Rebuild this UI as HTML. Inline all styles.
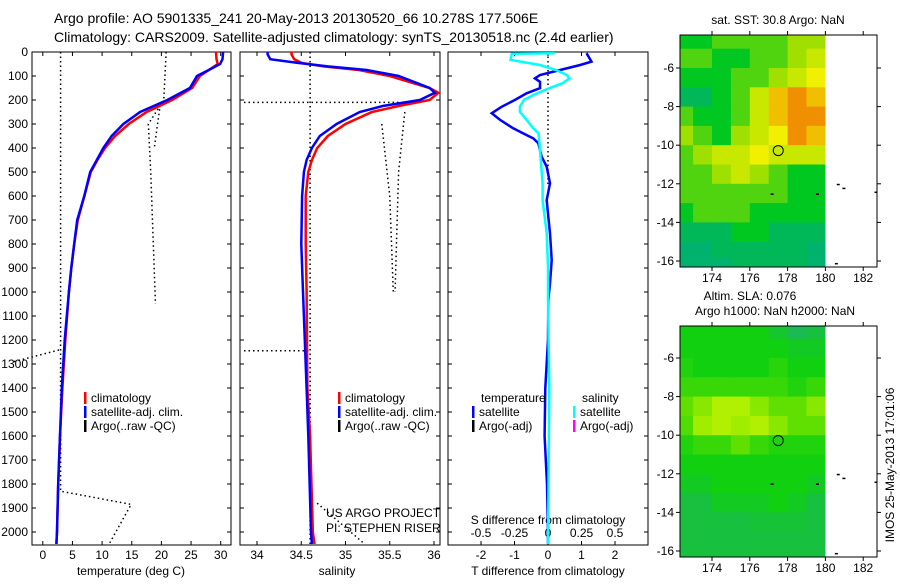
<!DOCTYPE html>
<html><head><meta charset="utf-8">
<style>
body{margin:0;background:#fff;width:900px;height:580px;overflow:hidden;font-family:"Liberation Sans",sans-serif;}
svg text{font-family:"Liberation Sans",sans-serif;font-size:12px;fill:#000;}
svg text.big{font-size:14px;}
</style></head>
<body>
<svg id="fig" width="900" height="580" viewBox="0 0 900 580" xmlns="http://www.w3.org/2000/svg">
<text class="big" x="54" y="23">Argo profile: AO 5901335_241 20-May-2013 20130520_66 10.278S 177.506E</text>
<text class="big" x="54" y="42">Climatology: CARS2009. Satellite-adjusted climatology: synTS_20130518.nc (2.4d earlier)</text>
<text x="778" y="24" text-anchor="middle">sat. SST: 30.8 Argo: NaN</text>
<text x="750" y="300" text-anchor="middle">Altim. SLA: 0.076</text>
<text x="775" y="315" text-anchor="middle">Argo h1000: NaN h2000: NaN</text>
<text transform="translate(894,465) rotate(-90)" text-anchor="middle">IMOS 25-May-2013 17:01:06</text>
<g id="g"></g>
</svg>
<script>
// ---- data ----
const tempP   = [0,30,50,75,100,150,200,250,300,350,400,450,500,600,700,800,900,1000,1200,1400,1600,1800,2000,2050];
const tempSat = [30.4,30.3,29.9,28,26,24.8,21,16.4,13.6,11.6,10.2,9.1,8,7,5.8,5.3,4.8,4.4,3.7,3.2,2.9,2.6,2.4,2.3];
const tempClim= [29.2,29.3,29.5,28,26.5,25.2,21.8,17.5,14.5,12.2,10.5,9.2,8.1,7,5.9,5.3,4.8,4.4,3.8,3.3,2.9,2.6,2.4,2.3];
const salP    = [0,10,30,45,60,75,100,150,170,200,225,250,300,350,400,450,500,600,800,1000,1400,1600,2000,2050];
const salSat  = [34.12,34.12,34.15,34.45,34.8,35.24,35.6,35.95,36.01,35.84,35.42,35.16,34.9,34.71,34.62,34.56,34.53,34.51,34.5,34.52,34.56,34.58,34.61,34.62];
const salClim = [34.39,34.39,34.42,34.5,34.75,35.15,35.5,35.95,36.05,35.95,35.6,35.3,35.0,34.8,34.68,34.62,34.58,34.55,34.55,34.56,34.57,34.6,34.63,34.65];
const tdP  = [5,40,54,75,96,110,124,151,172,200,228,255,283,318,339,360,380,436,478,547,617,686,755,867,964,1033,1200,1400,1600,1800,2000,2050];
const tdVal= [1.15,1.3,0.96,0.36,-0.24,-0.39,-0.24,-0.24,-0.64,-0.99,-1.38,-1.68,-1.43,-1.04,-0.74,-0.44,-0.29,-0.19,-0.04,0.06,-0.04,0.01,0.06,0.11,0.06,0.01,0,-0.08,-0.1,-0.03,0,0];
const sdP  = [5,7,33,54,75,96,110,130,151,179,200,228,249,283,318,339,408,478,547,617,755,894,1033,1400,2050];
const sdVal= [0.05,-0.27,-0.28,-0.06,0.06,0.14,0.16,0.11,0.01,-0.11,-0.18,-0.21,-0.21,-0.16,-0.11,-0.07,-0.06,-0.05,-0.04,-0.04,-0.01,0,0,0.01,0];
const pTicks = [0,100,200,300,400,500,600,700,800,900,1000,1100,1200,1300,1400,1500,1600,1700,1800,1900,2000];
const tTicks = [0,5,10,15,20,25,30];
const sTicks = [34,34.5,35,35.5,36];
const tdTicks = [-2,-1,0,1,2];
const sdTicks = [-0.5,-0.25,0,0.25,0.5];
const lonTicks = [174,176,178,180,182];
const latTicks = [-6,-8,-10,-12,-14,-16];
const mapLons = [172.5,173.5,174.5,175.5,176.5,177.5,178.5,179.5];
const mapLats = [-4.5,-5.5,-6.5,-7.5,-8.5,-9.5,-10.5,-11.5,-12.5,-13.5,-14.5,-15.5,-16.3];
const sstGrid = [
[1,1,1.5,1.5,1.5,1.5,2,2],
[1.5,1.5,1,1,1.5,1.5,2,2.5],
[1,1,1,1.5,1.5,2,2.5,3],
[0.5,0.5,1,1.5,2.5,3.5,4,3.5],
[1.5,1,1,1.5,2.5,3.5,4,4],
[2,1.5,1,2,2.5,3,4,3.5],
[1.5,2,2.5,2.5,3,2.5,2.5,2.5],
[1.5,1.5,2,2.5,2,1.5,1,1],
[1.5,1.5,1.5,1.5,1.5,1.5,1,1],
[1,1.5,1.5,1.5,1,1,1,1],
[0.5,0.5,0.5,1,1,0.5,0.5,0.5],
[0.3,0.3,0.5,0.5,0.5,0.5,0.5,0.3],
[0.3,0.3,0.3,0.5,0.5,0.5,0.5,0.3]];
const slaGrid = [
[1,1,1,1,1,0.7,0.3,0.5],
[1,1,1,1,1,1,0.8,0.8],
[1.2,1,1,1,1,1.3,1,1],
[1.5,1.5,1.5,1.5,1.5,1.5,1.2,1.5],
[2,2.5,3,3,2.5,2,2,2.5],
[1.8,2.8,3,2.8,3,2.5,2,2],
[1.2,1.5,1.5,2,1.5,1.2,1.2,1.2],
[1,1,1,1,1,1,1,1],
[0.8,0.8,1,1,1,1,1,0.8],
[0.5,0.5,0.8,0.8,0.8,1,0.8,0.5],
[0.5,0.5,0.5,0.5,0.6,0.6,0.6,0.5],
[0.5,0.5,0.5,0.5,0.5,0.5,0.5,0.5],
[0.5,0.5,0.5,0.5,0.5,0.5,0.5,0.5]];
const argoLon = 177.506, argoLat = -10.278;

// ---- scales ----
const py = p => 52 + p*0.24;
const tx = t => 42.8 + t*5.93;
const sx = s => 257 + (s-34)*88.5;
const dtx = d => 548 + d*33.5;
const dsx = d => 548 + d*134;
const mx = lon => 712 + (lon-174)*18.9;
const my1 = lat => 68 + (-6-lat)*19.3;
const my2 = lat => 358 + (-6-lat)*19.3;

const NS="http://www.w3.org/2000/svg";
const G=document.getElementById('g');
function mk(tag,attrs,parent){const e=document.createElementNS(NS,tag);for(const k in attrs)e.setAttribute(k,attrs[k]);(parent||G).appendChild(e);return e;}
function txt(x,y,s,anchor){const e=mk('text',{x:x,y:y,'text-anchor':anchor||'start'});e.textContent=s;return e;}
function line(xs,ps,fx,color,w,dash){
  const d=xs.map((v,i)=>(i?'L':'M')+fx(v).toFixed(1)+','+py(ps[i]).toFixed(1)).join('');
  const a={d:d,fill:'none',stroke:color,'stroke-width':w};
  if(dash)a['stroke-dasharray']=dash;
  return mk('path',a);
}
function poly(pts,color){
  return mk('path',{d:pts.map((p,i)=>(i?'L':'M')+p[0]+','+p[1]).join(''),fill:'none',stroke:color,'stroke-width':1.5,'stroke-dasharray':'1.5,3'});
}

// ---- panel frames ----
const panels=[[32,231,'temperature-panel'],[240,440,'salinity-panel'],[448,648,'difference-panel']];
panels.forEach(pn=>{
  const r=mk('rect',{x:pn[0],y:52,width:pn[1]-pn[0],height:493,fill:'none',stroke:'#000','stroke-width':1});
  
  
  pTicks.forEach(p=>{mk('line',{x1:pn[0],x2:pn[0]+4,y1:py(p),y2:py(p),stroke:'#000'});mk('line',{x1:pn[1],x2:pn[1]-4,y1:py(p),y2:py(p),stroke:'#000'});});
});
pTicks.forEach(p=>{const t=txt(28,py(p)+4,String(p),'end');});
function xticks(ticks,fx,labelY){ticks.forEach(v=>{const x=fx(v);mk('line',{x1:x,x2:x,y1:52,y2:56,stroke:'#000'});mk('line',{x1:x,x2:x,y1:545,y2:541,stroke:'#000'});if(labelY){const t=txt(x,labelY,String(v),'middle');}});}
xticks(tTicks,tx,559);
xticks(sTicks,sx,559);
xticks(tdTicks,dtx,559);
sdTicks.forEach(v=>{const t=txt(dsx(v),537,String(v),'middle');});
let a=txt(131,575,'temperature (deg C)','middle');
a=txt(337,575,'salinity','middle');
a=txt(548,575,'T difference from climatology','middle');
a=txt(548,524,'S difference from climatology','middle');

// ---- dotted reference lines ----
poly([[tx(3),py(0)],[tx(3),py(1830)],[tx(14.9),py(1885)],[tx(11.3),py(2045)]],'#000');
poly([[tx(20.8),py(0)],[tx(20.4),py(200)],[tx(17.8),py(300)],[tx(18.2),py(500)],[tx(19),py(1050)]],'#000');
poly([[tx(19.8),py(220)],[tx(18.8),py(400)]],'#000');
poly([[14,py(1290)],[tx(3),py(1240)]],'#000');
poly([[sx(34.6),py(0)],[sx(34.6),py(2050)]],'#000');
poly([[244,py(210)],[sx(35.7),py(210)]],'#000');
poly([[sx(35.67),py(250)],[sx(35.6),py(500)],[sx(35.56),py(1000)]],'#000');
poly([[sx(35.41),py(300)],[sx(35.5),py(600)],[sx(35.54),py(1000)]],'#000');
poly([[244,py(1245)],[sx(34.6),py(1245)]],'#000');
poly([[sx(34.68),py(1880)],[sx(35.2),py(2045)]],'#000');
poly([[548,py(0)],[548,py(560)]],'#000');

// ---- profiles ----
let e=line(tempClim,tempP,tx,'#ff0000',2.5);
e=line(tempSat,tempP,tx,'#0000ff',2.5);
e=line(salClim,salP,sx,'#ff0000',2.5);
e=line(salSat,salP,sx,'#0000ff',2.5);
e=line(tdVal,tdP,dtx,'#0000ff',2.5);
e=line(sdVal,sdP,dsx,'#00ffff',2.5);

// ---- legends ----
function leg(x,y,col,label,name){mk('rect',{x:x,y:y-10,width:2.5,height:12,fill:col});const t=txt(x+7,y,label);}
leg(84,402,'#ff0000','climatology','legend-climatology');
leg(84,416,'#0000ff','satellite-adj. clim.','legend-satellite');
leg(84,430,'#000','Argo(..raw -QC)','legend-argo');
leg(338,402,'#ff0000','climatology','legend-climatology-s');
leg(338,416,'#0000ff','satellite-adj. clim.','legend-satellite-s');
leg(338,430,'#000','Argo(..raw -QC)','legend-argo-s');
a=txt(481,402,'temperature');
a=txt(582,402,'salinity');
leg(472,416,'#0000ff','satellite','legend-t-satellite');
leg(472,430,'#000','Argo(-adj)','legend-t-argo');
leg(573,416,'#00ffff','satellite','legend-s-satellite');
leg(573,430,'#ff00ff','Argo(-adj)','legend-s-argo');
a=txt(326,517,'US ARGO PROJECT');
a=txt(326,532,'PI: STEPHEN RISER');

// ---- maps ----
function lerp(c1,c2,f){return 'rgb('+c1.map((v,i)=>Math.round(v+(c2[i]-v)*f)).join(',')+')';}
function cmap(stops,v){const i=Math.max(0,Math.min(stops.length-2,Math.floor(v)));return lerp(stops[i],stops[i+1],Math.max(0,Math.min(1,v-i)));}
const sstStops=[[0,168,144],[0,200,32],[160,224,0],[240,240,0],[240,144,0]];
const slaStops=[[32,176,112],[16,208,16],[96,224,0],[176,240,0]];
function drawMap(grid,stops,my,yTop,yBot,name){
  const g=mk('g',{});
  
  
  grid.forEach((row,r)=>{
    row.forEach((v,c)=>{
      const x0=Math.max(680,mx(mapLons[c]-0.5)), x1=Math.min(825,mx(mapLons[c]+0.5));
      const y0=Math.max(yTop,my(mapLats[r]+0.5)), y1=Math.min(yBot,my(mapLats[r]-0.5));
      if(y1>y0) mk('rect',{x:x0,y:y0,width:x1-x0+0.5,height:y1-y0+0.5,fill:cmap(stops,v)},g);
    });
  });
  mk('rect',{x:680,y:yTop,width:197,height:yBot-yTop,fill:'none',stroke:'#000'});
  lonTicks.forEach(l=>{const x=mx(l);mk('line',{x1:x,x2:x,y1:yTop,y2:yTop-4,stroke:'#000'});mk('line',{x1:x,x2:x,y1:yBot,y2:yBot+4,stroke:'#000'});const t=txt(x,yBot+15,String(l),'middle');});
  latTicks.forEach(l=>{const y=my(l);mk('line',{x1:680,x2:676,y1:y,y2:y,stroke:'#000'});mk('line',{x1:877,x2:881,y1:y,y2:y,stroke:'#000'});const t=txt(674,y+4,String(l),'end');});
  const c=mk('circle',{cx:mx(argoLon),cy:my(argoLat),r:5,fill:'none',stroke:'#000','stroke-width':1});
  
  
  [[180.6,-12],[180.9,-12.2],[182.6,-12.4],[180.5,-16.1],[179.5,-12.5],[177.1,-12.5]].forEach(p=>mk('rect',{x:mx(p[0]),y:my(p[1]),width:3,height:1.5,fill:'#000'}));
}
drawMap(sstGrid,sstStops,my1,35,267,'sst-map');
drawMap(slaGrid,slaStops,my2,326,557,'sla-map');
</script>
</body></html>
